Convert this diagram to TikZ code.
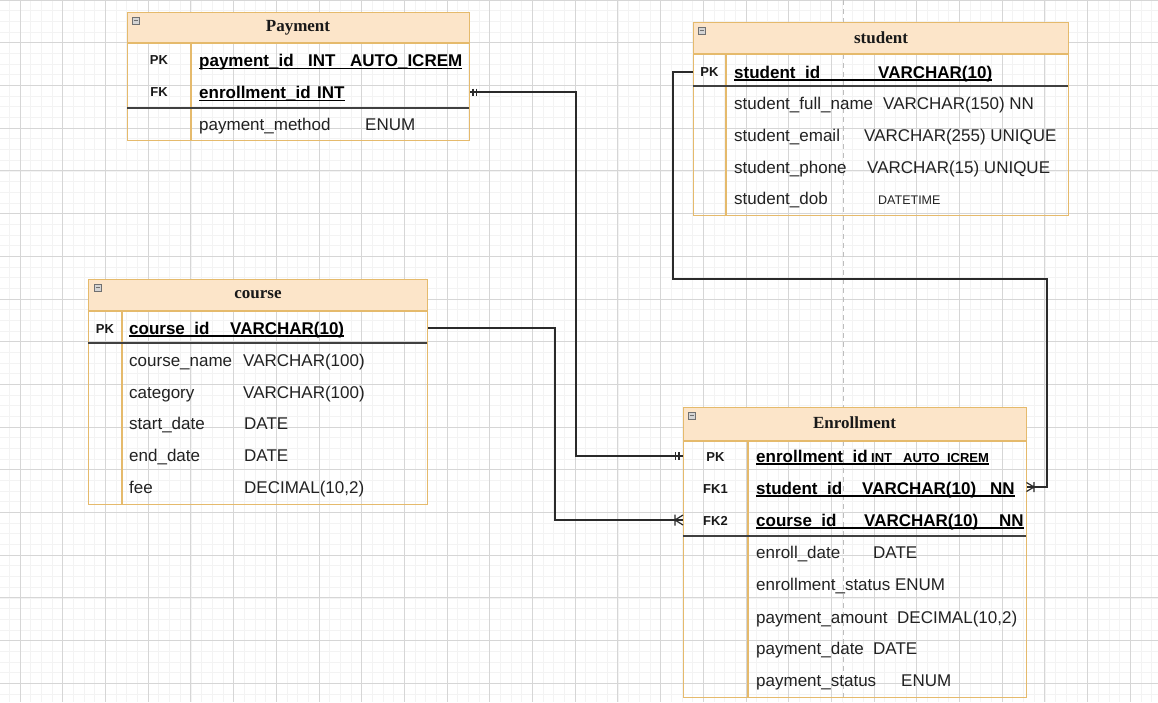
\documentclass[tikz,border=0pt]{standalone}
\usepackage{fontspec}
\setmainfont{Liberation Sans}
\newfontfamily\serifb{Liberation Serif}
\definecolor{tborder}{HTML}{E5BA6C}
\definecolor{thead}{HTML}{FCE5C9}
\definecolor{gmaj}{HTML}{D6D6D6}
\definecolor{gmin}{HTML}{F3F3F3}
\definecolor{txt}{HTML}{222222}
\definecolor{connc}{HTML}{2A2A2A}
\definecolor{guide}{HTML}{BDBDBD}
\definecolor{iconf}{HTML}{D4D4D4}
\definecolor{icond}{HTML}{707070}
\tikzset{
  gminor/.style={draw=gmin, line width=0.6pt},
  gmajor/.style={draw=gmaj, line width=0.8pt},
  guideline/.style={draw=guide, line width=1pt, dash pattern=on 5pt off 4pt},
  tbl/.style={draw=tborder, line width=1.3pt, inner sep=0pt, anchor=north west},
  hline/.style={draw=tborder, line width=1.2pt},
  kdiv/.style={draw=tborder, line width=1.2pt},
  sepline/.style={draw=black!75, line width=1.7pt},
  ttl/.style={font=\serifb\bfseries\fontsize{17}{20}\selectfont, inner sep=0pt, text=black!90},
  fld/.style={font=\fontsize{17}{20}\selectfont, inner sep=0pt, anchor=base west, text=txt},
  fldb/.style={font=\bfseries\fontsize{17}{20}\selectfont, inner sep=0pt, anchor=base west, text=black},
  keylbl/.style={font=\bfseries\fontsize{13}{15}\selectfont, inner sep=0pt, anchor=base, text=black!90},
  ul/.style={draw=black, line width=1.3pt},
  conn/.style={draw=connc, line width=1.4pt},
  ermark/.style={draw=connc, line width=1.2pt},
  icon/.style={fill=iconf, draw=icond, line width=0.6pt},
}
\newcommand{\smallb}{\bfseries\fontsize{13}{15}\selectfont}
\newcommand{\smalln}{\fontsize{12.5}{15}\selectfont}
\begin{document}
\begin{tikzpicture}[x=1pt,y=-1pt]
\useasboundingbox (0,0) rectangle (1158,702);
\fill[white] (0,0) rectangle (1158,702);
% grid
\foreach \i in {0,...,112} {\draw[gminor] ({-22.7+\i*10.675},0) -- ({-22.7+\i*10.675},702);}
\foreach \i in {0,...,66} {\draw[gminor] (0,{\i*10.675}) -- (1158,{\i*10.675});}
\foreach \i in {0,...,28} {\draw[gmajor] ({-22.7+\i*42.7},0) -- ({-22.7+\i*42.7},702);}
\foreach \i in {0,...,17} {\draw[gmajor] (0,{\i*42.7}) -- (1158,{\i*42.7});}
\draw[guideline] (843,0) -- (843,702);

% ---------- Payment ----------
\fill[thead] (127,12) rectangle (469,43);
\node[tbl, minimum width=342pt, minimum height=128pt] (pay) at (127,12) {};
\draw[hline] (127,43) -- (469,43);
\draw[kdiv] (191,43) -- (191,140);
\draw[sepline] (127,108) -- (469,108);
\filldraw[icon] (132,17) rectangle (139,24);
\draw[icond, line width=0.8pt] (133.5,20.5) -- (137.5,20.5);
\node[ttl] (payT) at (298,28) {Payment};
\node[keylbl] (payPKk) at (159,64.5) {PK};
\node[keylbl] (payFKk) at (159,96.5) {FK};
\node[fldb] (payPK) at (199,66.5) {\makebox[109pt][l]{payment\_id}\makebox[42pt][l]{INT}AUTO\_ICREM};
\node[fldb] (payFK) at (199,98.5) {\makebox[118pt][l]{enrollment\_id}INT};
\node[fld] (payR3) at (199,130) {\makebox[166pt][l]{payment\_method}ENUM};
\draw[ul] ([yshift=-2pt]payPK.base west) -- ([yshift=-2pt]payPK.base east);
\draw[ul] ([yshift=-2pt]payFK.base west) -- ([yshift=-2pt]payFK.base east);
\coordinate (payFKr) at (127,92);

% ---------- student ----------
\fill[thead] (693,22) rectangle (1068,54);
\node[tbl, minimum width=375pt, minimum height=193pt] (stu) at (693,22) {};
\draw[hline] (693,54) -- (1068,54);
\draw[kdiv] (726,54) -- (726,215);
\draw[sepline] (693,86) -- (1068,86);
\filldraw[icon] (698,27) rectangle (705,34);
\draw[icond, line width=0.8pt] (699.5,30.5) -- (703.5,30.5);
\node[ttl] (stuT) at (881,38) {student};
\node[keylbl] (stuPKk) at (709.5,76.5) {PK};
\node[fldb] (stuPK) at (734,78) {\makebox[144pt][l]{student\_id}VARCHAR(10)};
\node[fld] (stuR2) at (734,109) {\makebox[149pt][l]{student\_full\_name}VARCHAR(150) NN};
\node[fld] (stuR3) at (734,141) {\makebox[130pt][l]{student\_email}VARCHAR(255) UNIQUE};
\node[fld] (stuR4) at (734,173) {\makebox[133pt][l]{student\_phone}VARCHAR(15) UNIQUE};
\node[fld] (stuR5) at (734,204) {\makebox[144pt][l]{student\_dob}{\smalln DATETIME}};
\draw[ul] ([yshift=-2pt]stuPK.base west) -- ([yshift=-2pt]stuPK.base east);
\coordinate (stuPKr) at (693,72);

% ---------- course ----------
\fill[thead] (88,279) rectangle (427,311);
\node[tbl, minimum width=339pt, minimum height=225pt] (crs) at (88,279) {};
\draw[hline] (88,311) -- (427,311);
\draw[kdiv] (122,311) -- (122,504);
\draw[sepline] (88,343) -- (427,343);
\filldraw[icon] (94,284) rectangle (101,291);
\draw[icond, line width=0.8pt] (95.5,287.5) -- (99.5,287.5);
\node[ttl] (crsT) at (258,295) {course};
\node[keylbl] (crsPKk) at (105,333) {PK};
\node[fldb] (crsPK) at (129,334) {\makebox[101pt][l]{course\_id}VARCHAR(10)};
\node[fld] (crsR2) at (129,366) {\makebox[114pt][l]{course\_name}VARCHAR(100)};
\node[fld] (crsR3) at (129,398) {\makebox[114pt][l]{category}VARCHAR(100)};
\node[fld] (crsR4) at (129,429) {\makebox[115pt][l]{start\_date}DATE};
\node[fld] (crsR5) at (129,461) {\makebox[115pt][l]{end\_date}DATE};
\node[fld] (crsR6) at (129,493) {\makebox[115pt][l]{fee}DECIMAL(10,2)};
\draw[ul] ([yshift=-2pt]crsPK.base west) -- ([yshift=-2pt]crsPK.base east);
\coordinate (crsPKr) at (88,328);

% ---------- Enrollment ----------
\fill[thead] (683,407) rectangle (1026,441);
\node[tbl, minimum width=343pt, minimum height=290pt] (enr) at (683,407) {};
\draw[hline] (683,441) -- (1026,441);
\draw[kdiv] (748,441) -- (748,697);
\draw[sepline] (683,536) -- (1026,536);
\filldraw[icon] (688,412) rectangle (695,419);
\draw[icond, line width=0.8pt] (689.5,415.5) -- (693.5,415.5);
\node[ttl] (enrT) at (854.5,423) {Enrollment};
\node[keylbl] (enrPKk) at (715.5,461) {PK};
\node[keylbl] (enrFK1k) at (715.5,493) {FK1};
\node[keylbl] (enrFK2k) at (715.5,525) {FK2};
\node[fldb] (enrPK) at (756,462) {\makebox[115pt][l]{enrollment\_id}{\smallb\makebox[32pt][l]{INT}AUTO\_ICREM}};
\node[fldb] (enrFK1) at (756,494) {\makebox[106pt][l]{student\_id}\makebox[128pt][l]{VARCHAR(10)}NN};
\node[fldb] (enrFK2) at (756,526) {\makebox[108pt][l]{course\_id}\makebox[135pt][l]{VARCHAR(10)}NN};
\node[fld] (enrR4) at (756,558) {\makebox[117pt][l]{enroll\_date}DATE};
\node[fld] (enrR5) at (756,590) {enrollment\_status ENUM};
\node[fld] (enrR6) at (756,623) {\makebox[141pt][l]{payment\_amount}DECIMAL(10,2)};
\node[fld] (enrR7) at (756,654) {\makebox[117pt][l]{payment\_date}DATE};
\node[fld] (enrR8) at (756,686) {\makebox[145pt][l]{payment\_status}ENUM};
\draw[ul] ([yshift=-2pt]enrPK.base west) -- ([yshift=-2pt]enrPK.base east);
\draw[ul] ([yshift=-2pt]enrFK1.base west) -- ([yshift=-2pt]enrFK1.base east);
\draw[ul] ([yshift=-2pt]enrFK2.base west) -- ([yshift=-2pt]enrFK2.base east);
\coordinate (enrPKr) at (683,456);
\coordinate (enrFK1r) at (683,487);
\coordinate (enrFK2r) at (683,520);

% ---------- connectors ----------
\draw[conn] (pay.east |- payFKr) -| (576,300) |- (enr.west |- enrPKr);
\draw[conn] (crs.east |- crsPKr) -| (555,400) |- (enr.west |- enrFK2r);
\draw[conn] (stu.west |- stuPKr) -| (673,279) -| (1047,400) |- (enr.east |- enrFK1r);
% mandatory-one marks
\draw[ermark] (473,88.5) -- (473,95.5) (476.5,88.5) -- (476.5,95.5);
\draw[ermark] (675.5,452) -- (675.5,460) (679,452) -- (679,460);
% one-to-many marks
\draw[ermark] (675,514.5) -- (675,525.5) (675,520) -- (683,515) (675,520) -- (683,525);
\draw[ermark] (1034,482) -- (1034,492) (1034,487) -- (1026.5,482.5) (1034,487) -- (1026.5,491.5);
\end{tikzpicture}
\end{document}
